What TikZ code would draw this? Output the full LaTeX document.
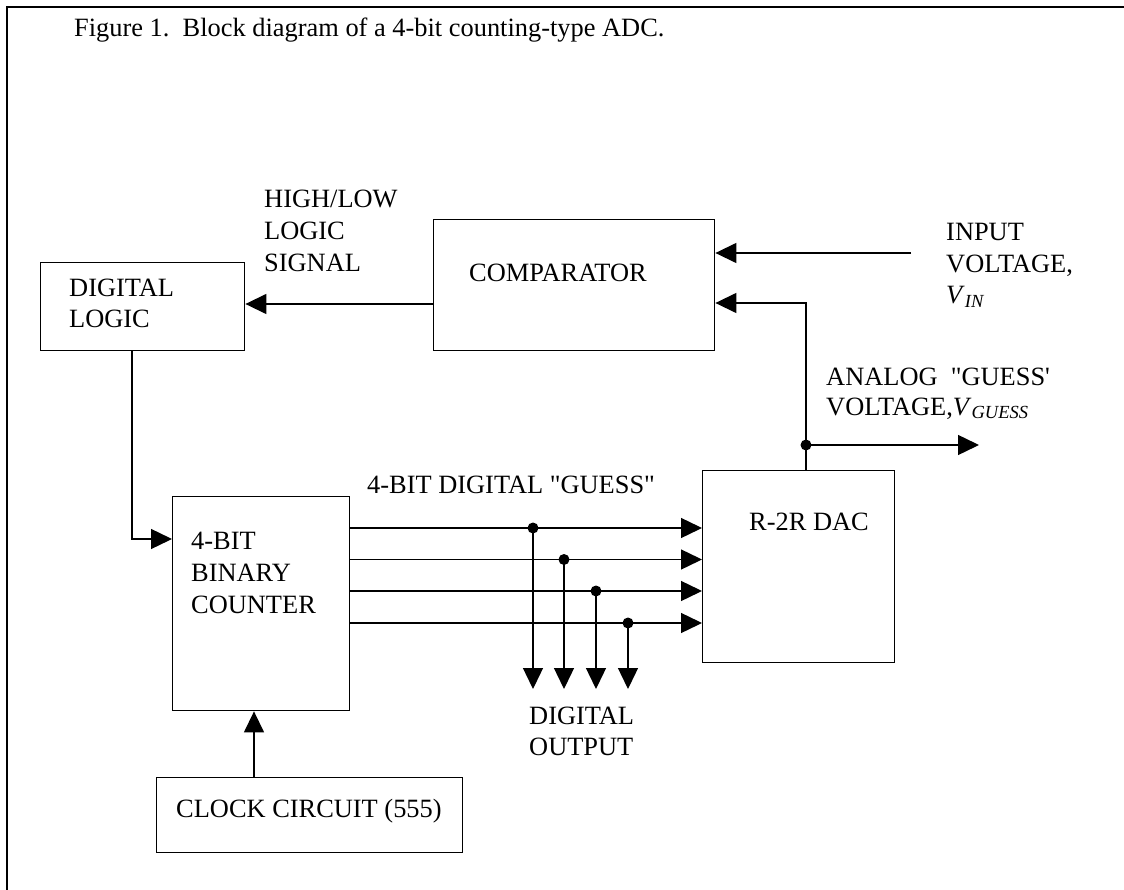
\documentclass[tikz,border=0pt]{standalone}
\usepackage{fontspec}
\setmainfont{Liberation Serif}[Ligatures=TeXOff]
\usetikzlibrary{arrows.meta}
\begin{document}
\begin{tikzpicture}[x=1pt,y=-1pt,
  lbl/.style={anchor=base west, inner sep=0pt, font=\fontsize{26.4}{31.5}\selectfont},
  blk/.style={draw, line width=1.4pt, inner sep=0pt, anchor=north west},
  wire/.style={line width=1.4pt},
  arr/.style={wire, -{Triangle[length=21pt,width=20pt]}},
  jdot/.style={circle, fill, inner sep=0pt, minimum size=11pt}]
\useasboundingbox (0,0) rectangle (1124,890);
% frame
\coordinate (f1) at (6.7,890);
\coordinate (f2) at (6.7,6.7);
\coordinate (f3) at (1124,6.7);
\draw[line width=2.2pt] (f1) -- (f2) -- (f3);
% title
\node[lbl] (title) at (74,37) {Figure 1.\ \ Block diagram of a 4-bit counting-type ADC.};
% blocks
\node[blk, minimum width=204pt, minimum height=88pt] (dl) at (40,262) {};
\node[blk, minimum width=281pt, minimum height=131pt] (comp) at (433,219) {};
\node[blk, minimum width=192pt, minimum height=192pt] (dac) at (702,470) {};
\node[blk, minimum width=177pt, minimum height=214pt] (cnt) at (172,496) {};
\node[blk, minimum width=306pt, minimum height=75pt] (clk) at (156,777) {};
% block texts
\node[lbl] (dlt1) at (69,297) {DIGITAL};
\node[lbl] (dlt2) at (69,328) {LOGIC};
\node[lbl] (compt) at (469,282) {COMPARATOR};
\node[lbl] (dact) at (749,530) {R-2R DAC};
\node[lbl] (cntt1) at (191,549) {4-BIT};
\node[lbl] (cntt2) at (191,581) {BINARY};
\node[lbl] (cntt3) at (191,613) {COUNTER};
\node[lbl] (clkt) at (176,817) {CLOCK CIRCUIT (555)};
% signal labels
\node[lbl] (hl1) at (264,208) {HIGH/LOW};
\node[lbl] (hl2) at (264,240) {LOGIC};
\node[lbl] (hl3) at (264,272) {SIGNAL};
\node[lbl] (in1) at (946,241) {INPUT};
\node[lbl] (in2) at (946,273) {VOLTAGE,};
\node[lbl] (in3) at (946,304) {\textit{V}\textsubscript{\textit{IN}}};
\node[lbl] (an1) at (826,385) {ANALOG\ \ "GUESS'};
\node[lbl] (an2) at (826,415) {VOLTAGE,\textit{V}\textsubscript{\textit{GUESS}}};
\node[lbl] (dg) at (367,493) {4-BIT DIGITAL "GUESS"};
\node[lbl] (do1) at (529,724) {DIGITAL};
\node[lbl] (do2) at (529,755) {OUTPUT};
% connectors
\coordinate (inp) at (911,253);
\draw[arr] (inp) -- (comp.east |- inp);
\coordinate (j) at (806,445);
\coordinate (c2) at (806,303);
\draw[arr] (j |- dac.north) -- (j) -- (c2) -- (comp.east |- c2);
\coordinate (vg) at (979,445);
\draw[arr] (j) -- (vg);
\node[jdot] (jd) at (j) {};
\coordinate (y304) at (0,304);
\draw[arr] (comp.west |- y304) -- (dl.east |- y304);
\coordinate (k) at (132,539);
\draw[arr] (k |- dl.south) -- (k) -- (cnt.west |- k);
\coordinate (k2) at (254,0);
\draw[arr] (k2 |- clk.north) -- (k2 |- cnt.south);
\foreach \i/\yy/\xx in {1/528/533, 2/559.5/564, 3/591/596, 4/623/628} {
  \coordinate (b\i) at (\xx,\yy);
  \draw[arr] (cnt.east |- b\i) -- (dac.west |- b\i);
  \node[jdot] (d\i) at (b\i) {};
  \coordinate (o\i) at (\xx,689);
  \draw[arr] (b\i) -- (o\i);
}
\end{tikzpicture}
\end{document}
